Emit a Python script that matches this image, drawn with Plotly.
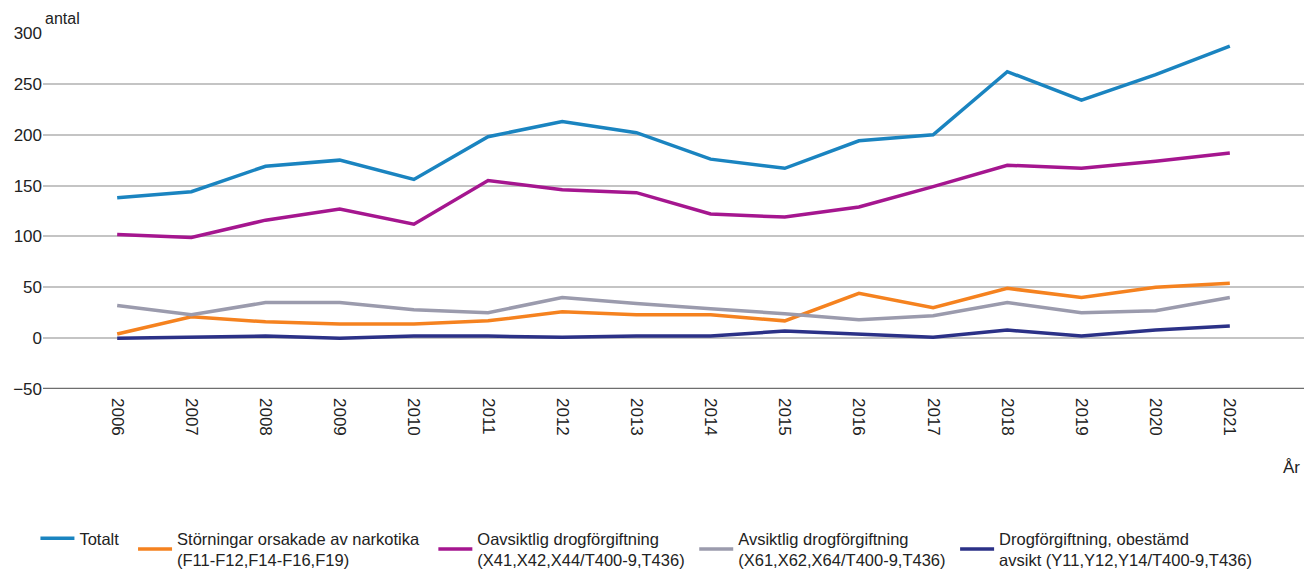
import plotly.graph_objects as go

# Years on the category axis
years = [str(y) for y in range(2006, 2022)]

# Counts per year for each series
totalt = [138, 144, 169, 175, 156, 198, 213, 202, 176, 167, 194, 200, 262, 234, 259, 287]
storningar = [4, 21, 16, 14, 14, 17, 26, 23, 23, 17, 44, 30, 49, 40, 50, 54]
oavsiktlig = [102, 99, 116, 127, 112, 155, 146, 143, 122, 119, 129, 149, 170, 167, 174, 182]
avsiktlig = [32, 23, 35, 35, 28, 25, 40, 34, 29, 24, 18, 22, 35, 25, 27, 40]
obestamd = [0, 1, 2, 0, 2, 2, 1, 2, 2, 7, 4, 1, 8, 2, 8, 12]

y_ticks = [-50, 0, 50, 100, 150, 200, 250, 300]

# trailing no-break spaces widen the gap between legend entries
PAD = "\u00a0"

series = [
    ("Totalt" + PAD * 2, totalt, "#1a84c0"),
    ("Störningar orsakade av narkotika" + PAD * 2 + "<br>(F11-F12,F14-F16,F19)", storningar, "#f5821f"),
    ("Oavsiktlig drogförgiftning<br>(X41,X42,X44/T400-9,T436)" + PAD, oavsiktlig, "#a5168f"),
    ("Avsiktlig drogförgiftning<br>(X61,X62,X64/T400-9,T436)" + PAD, avsiktlig, "#9b9bad"),
    ("Drogförgiftning, obestämd<br>avsikt (Y11,Y12,Y14/T400-9,T436)", obestamd, "#2b3187"),
]

FONT = "Liberation Sans, Arial, sans-serif"

fig = go.Figure()
for name, vals, color in series:
    fig.add_trace(go.Scatter(
        x=years, y=vals, name=name, mode="lines",
        line=dict(color=color, width=3.5),
    ))

fig.update_layout(
    width=1304, height=569,
    margin=dict(l=43, r=0, t=33, b=180, autoexpand=False),
    paper_bgcolor="white", plot_bgcolor="white",
    font=dict(family=FONT, size=16, color="#222222"),
    showlegend=True,
    legend=dict(
        orientation="h", x=-0.006, xanchor="left", y=-0.528, yanchor="bottom",
        font=dict(family=FONT, size=16.5, color="#222222"),
        itemwidth=34, tracegroupgap=0, traceorder="normal",
        valign="middle",
    ),
    xaxis=dict(
        type="category", range=[-1, 16], automargin=False,
        tickangle=90, showgrid=False, zeroline=False,
        showline=False, ticks="", ticklabelstandoff=8,
        tickfont=dict(family=FONT, size=17, color="#222222"),
    ),
    yaxis=dict(
        range=[-50, 300], tickvals=y_ticks, automargin=False,
        showgrid=True, gridcolor="#c4c4c4", gridwidth=1.6,
        zeroline=False, showline=False, ticks="",
        tickfont=dict(family=FONT, size=17, color="#222222"),
    ),
    annotations=[
        dict(text="antal", xref="paper", yref="paper", x=0, y=1,
             xanchor="left", yanchor="bottom", yshift=4, xshift=0, showarrow=False,
             font=dict(family=FONT, size=16, color="#222222")),
        dict(text="År", xref="paper", yref="paper", x=1, y=-0.22,
             xanchor="right", yanchor="middle", xshift=-2, showarrow=False,
             font=dict(family=FONT, size=17, color="#222222")),
    ],
    shapes=[
        # darker baseline along the bottom of the plot area
        dict(type="line", xref="paper", yref="y", x0=0, x1=1, y0=-50, y1=-50,
             line=dict(color="#6e6e6e", width=2.5)),
    ],
)

fig.write_html("out.html")
